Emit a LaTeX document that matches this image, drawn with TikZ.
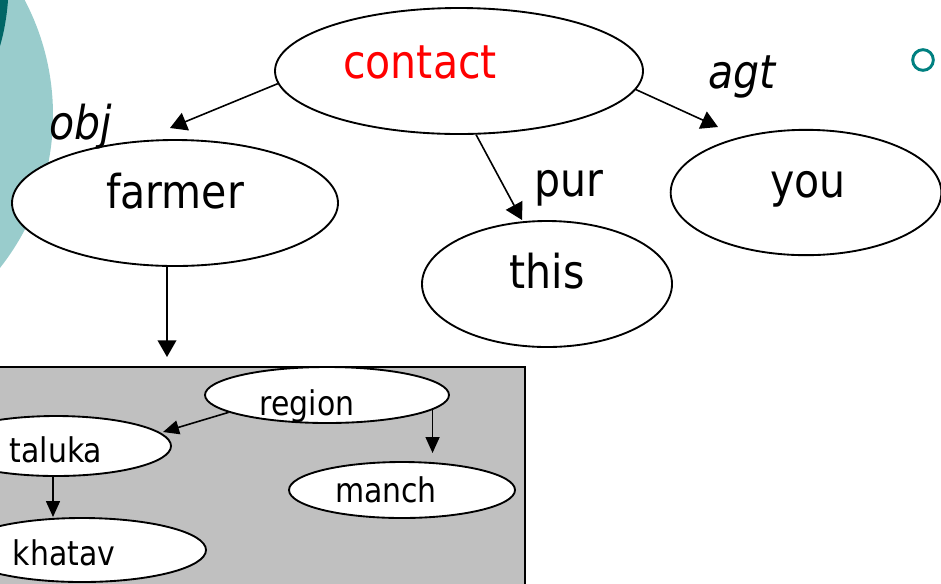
\documentclass[tikz,border=0pt]{standalone}
\usepackage{fontspec}
\setmainfont{DejaVu Sans}[FakeStretch=0.88]
\usetikzlibrary{shapes.geometric,arrows.meta}
\definecolor{lteal}{RGB}{153,204,204}
\definecolor{dteal}{RGB}{0,102,102}
\definecolor{bteal}{RGB}{0,128,128}
\definecolor{boxgray}{RGB}{192,192,192}
\begin{document}
\begin{tikzpicture}[x=0.75pt,y=-0.75pt,
  bigfont/.style={font=\fontsize{35}{40}\selectfont},
  smallfont/.style={font=\fontsize{25.5}{30}\selectfont},
  ell/.style={ellipse, draw=black, line width=1.4pt, fill=white, inner sep=0pt, text height=0pt, text depth=0pt},
  bigell/.style={ell, bigfont},
  smallell/.style={ell, smallfont},
  bigarrow/.style={line width=1.2pt, -{Triangle[length=12.5pt,width=14pt]}},
  smallarrow/.style={line width=1.2pt, -{Triangle[length=12pt,width=10.5pt]}},
  lbl/.style={bigfont, anchor=base, inner sep=0pt}]
\useasboundingbox (0,0) rectangle (941,583);
\clip (0,0) rectangle (941,583);
% background decoration
\fill[lteal] (-194,115) circle[radius=185.25pt];
\fill[dteal] (0,0) -- (8,0) .. controls (7,15) and (4,33) .. (0,46) -- cycle;
\node[draw=bteal, line width=2.2pt, circle, minimum size=15.5pt, inner sep=0pt] (bullet) at (923,60) {};
% gray box
\node[draw=black, line width=1.2pt, fill=boxgray, rectangle, inner sep=0pt, anchor=north west,
      minimum width=396.75pt, minimum height=180pt] (box) at (-5,366) {};
% top-level nodes
\node[bigell, minimum width=276pt, minimum height=94.5pt, text=red] (contact) at (459,71)
  {\raisebox{-5.25pt}{\hspace*{-58.5pt}contact}};
\node[bigell, minimum width=244.5pt, minimum height=94.5pt] (farmer) at (175,203)
  {\raisebox{-3.75pt}{farmer}};
\node[bigell, minimum width=187.5pt, minimum height=94.5pt] (this) at (547,284)
  {\raisebox{-3pt}{this}};
\node[bigell, minimum width=203pt, minimum height=94pt] (you) at (806,192.5)
  {\raisebox{-3.75pt}{\hspace*{3pt}you}};
% labels
\node[lbl, font=\fontsize{35}{40}\selectfont\itshape] (lobj) at (81,139) {obj};
\node[lbl, font=\fontsize{35}{40}\selectfont\itshape] (lagt) at (742,88) {agt};
\node[lbl] (lpur) at (569,196) {pur};
% inner nodes
\node[smallell, minimum width=183pt, minimum height=42pt] (region) at (327,395)
  {\raisebox{-15pt}{\hspace*{-30pt}region}};
\node[smallell, minimum width=169.5pt, minimum height=42pt] (manch) at (402,490)
  {\raisebox{-9pt}{\hspace*{-24pt}manch}};
\node[smallell, minimum width=172.5pt, minimum height=45pt] (taluka) at (56,446)
  {\raisebox{-12pt}{taluka}};
\node[smallell, minimum width=186pt, minimum height=48pt] (khatav) at (82,550)
  {\raisebox{-11.25pt}{\hspace*{-27pt}khatav}};
% arrow tips
\coordinate (cfTip) at (170,128);
\coordinate (ctTip) at (522,220);
\coordinate (cyTip) at (718,127);
\coordinate (fbTip) at (167,357);
\coordinate (rtTip) at (163,432);
\coordinate (rmTip) at (432,453);
\coordinate (tkTip) at (53,517);
% connectors
\draw[bigarrow] (contact.184) -- (cfTip);
\draw[bigarrow] (contact.285) -- (ctTip);
\draw[bigarrow] (contact.354) -- (cyTip);
\draw[bigarrow] (farmer.south -| fbTip) -- (fbTip);
\draw[smallarrow] (region.190) -- (rtTip);
\draw[smallarrow] (region.352) -- (region.352 |- rmTip);
\draw[smallarrow] (taluka.south -| tkTip) -- (tkTip);
\end{tikzpicture}
\end{document}
